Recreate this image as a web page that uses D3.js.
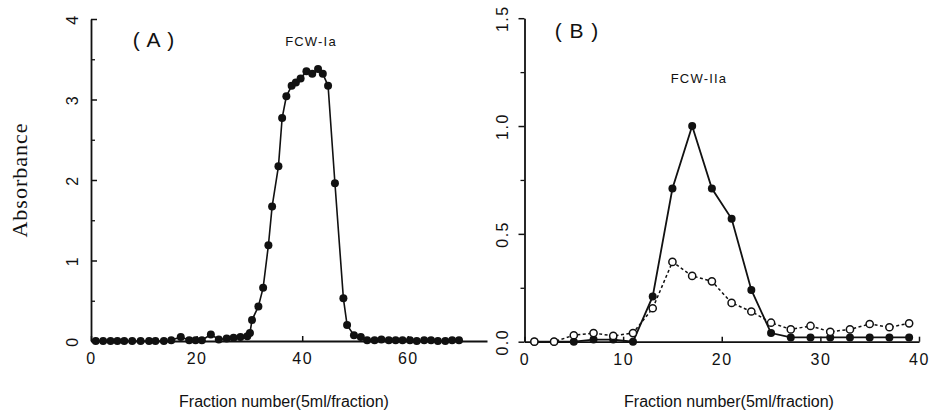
<!DOCTYPE html>
<html>
<head>
<meta charset="utf-8">
<script src="https://cdn.jsdelivr.net/npm/d3@7"></script>
<style>
  body { margin: 0; background: #fff; }
  svg { display: block; }
</style>
</head>
<body>
<div id="chart"></div>
<script>
// panel A: fraction number vs absorbance (FCW-Ia)
const fracA = [0.9, 2.3, 3.7, 5, 6.3, 7.8, 9.4, 11, 12.2, 13.8,
  15.2, 17, 18.6, 19.8, 21, 22.7, 24.2, 25.7, 27, 28.3,
  29.6, 30.1, 30.5, 31.7, 32.6, 33.6, 34.3, 35.5, 36.2, 37,
  38, 38.8, 39.7, 40.8, 41.9, 43, 43.9, 44.9, 46.2, 47.8,
  48.5, 49.8, 51.1, 52.3, 53.7, 55, 56.4, 57.7, 59, 60.4,
  61.7, 63.1, 64.4, 65.7, 67.1, 68.4, 69.7];
const absA = [0, 0, 0, 0, 0, 0, 0, 0, 0, 0,
  0.01, 0.05, 0.01, 0.01, 0.01, 0.08, 0.02, 0.03, 0.04, 0.05,
  0.06, 0.1, 0.26, 0.43, 0.66, 1.19, 1.67, 2.17, 2.77, 3.04,
  3.17, 3.21, 3.26, 3.35, 3.32, 3.38, 3.32, 3.17, 1.96, 0.53,
  0.2, 0.07, 0.05, 0.01, 0.01, 0.02, 0.01, 0.01, 0.01, 0.01,
  0, 0.01, 0.01, 0, 0, 0.01, 0.01];

// panel B: FCW-IIa, two series
const fracB = [1, 3, 5, 7, 9, 11, 13, 15, 17, 19, 21, 23, 25, 27, 29, 31, 33, 35, 37, 39];
const filledB = [0, 0, 0, 0.01, 0.01, 0, 0.21, 0.71, 1.0, 0.71, 0.57, 0.24, 0.04, 0.02, 0.02, 0.02, 0.02, 0.02, 0.02, 0.02];
const openB = [0, 0, 0.03, 0.04, 0.027, 0.04, 0.155, 0.37, 0.305, 0.28, 0.18, 0.14, 0.088, 0.057, 0.073, 0.046, 0.057, 0.082, 0.067, 0.085];

const ticksAx = [0, 20, 40, 60];
const ticksAy = [0, 1, 2, 3, 4];
const minorAy = [0.5, 1.5, 2.5, 3.5];
const ticksBx = [0, 10, 20, 30, 40];
const ticksBy = [0, 0.5, 1.0, 1.5];
const minorBy = [0.25, 0.75, 1.25];

const ink = '#111';
const sans = '"Liberation Sans", Arial, sans-serif';

const svg = d3.select('#chart').append('svg')
  .attr('width', 929)
  .attr('height', 412);

const xA = d3.scaleLinear().domain([0, 75]).range([91, 487]);
const yA = d3.scaleLinear().domain([0, 4]).range([341, 19]);
const xB = d3.scaleLinear().domain([0, 40]).range([524.5, 919]);
const yB = d3.scaleLinear().domain([0, 1.5]).range([341.7, 18.2]);

function styleAxis(g) {
  g.select('.domain').attr('stroke', ink).attr('stroke-width', 1.8);
  g.selectAll('.tick line').attr('stroke', ink).attr('stroke-width', 1.5);
  g.selectAll('.tick text')
    .attr('fill', ink)
    .style('font-family', sans)
    .style('font-size', '16px')
    .style('letter-spacing', '1.5px');
}

function rotateLabels(g, offset) {
  g.selectAll('.tick text')
    .attr('x', null)
    .attr('dy', '0.36em')
    .attr('text-anchor', 'middle')
    .attr('transform', `translate(${offset},0) rotate(-90)`);
}

// ---- panel A axes
const gAx = svg.append('g')
  .attr('transform', `translate(0,${yA(0)})`)
  .call(d3.axisBottom(xA).tickValues(ticksAx).tickSize(-5).tickSizeOuter(0).tickPadding(12));
styleAxis(gAx);

const gAy = svg.append('g')
  .attr('transform', `translate(${xA(0)},0)`)
  .call(d3.axisLeft(yA).tickValues(ticksAy).tickSize(-6).tickSizeOuter(0).tickFormat(d3.format('d')));
styleAxis(gAy);
rotateLabels(gAy, -19);

svg.append('g')
  .attr('transform', `translate(${xA(0)},0)`)
  .call(d3.axisLeft(yA).tickValues(minorAy).tickSize(-4).tickFormat(''))
  .call(g => g.select('.domain').remove())
  .call(g => g.selectAll('line').attr('stroke', ink).attr('stroke-width', 1.3));

// ---- panel B axes
const gBx = svg.append('g')
  .attr('transform', `translate(0,${yB(0)})`)
  .call(d3.axisBottom(xB).tickValues(ticksBx).tickSize(-5).tickSizeOuter(0).tickPadding(12));
styleAxis(gBx);

const gBy = svg.append('g')
  .attr('transform', `translate(${xB(0)},0)`)
  .call(d3.axisLeft(yB).tickValues(ticksBy).tickSize(6).tickSizeOuter(0).tickFormat(d3.format('.1f')));
styleAxis(gBy);
rotateLabels(gBy, -22.5);

svg.append('g')
  .attr('transform', `translate(${xB(0)},0)`)
  .call(d3.axisLeft(yB).tickValues(minorBy).tickSize(4).tickFormat(''))
  .call(g => g.select('.domain').remove())
  .call(g => g.selectAll('line').attr('stroke', ink).attr('stroke-width', 1.3));

// ---- series
const lineA = d3.line().x(i => xA(fracA[i])).y(i => yA(absA[i]));
svg.append('path')
  .attr('d', lineA(d3.range(fracA.length)))
  .attr('fill', 'none')
  .attr('stroke', ink)
  .attr('stroke-width', 1.6);

svg.append('g').selectAll('circle')
  .data(d3.range(fracA.length))
  .join('circle')
  .attr('cx', i => xA(fracA[i]))
  .attr('cy', i => yA(absA[i]))
  .attr('r', 4)
  .attr('fill', ink);

const lineFilled = d3.line().x(i => xB(fracB[i])).y(i => yB(filledB[i]));
const lineOpen = d3.line().x(i => xB(fracB[i])).y(i => yB(openB[i]));
const idxB = d3.range(fracB.length);

svg.append('path')
  .attr('d', lineFilled(idxB))
  .attr('fill', 'none')
  .attr('stroke', ink)
  .attr('stroke-width', 1.8);

svg.append('path')
  .attr('d', lineOpen(idxB))
  .attr('fill', 'none')
  .attr('stroke', ink)
  .attr('stroke-width', 1.5)
  .attr('stroke-dasharray', '3,2.5');

svg.append('g').selectAll('circle')
  .data(idxB)
  .join('circle')
  .attr('cx', i => xB(fracB[i]))
  .attr('cy', i => yB(filledB[i]))
  .attr('r', 4)
  .attr('fill', ink);

svg.append('g').selectAll('circle')
  .data(idxB)
  .join('circle')
  .attr('cx', i => xB(fracB[i]))
  .attr('cy', i => yB(openB[i]))
  .attr('r', 3.6)
  .attr('fill', '#fff')
  .attr('stroke', ink)
  .attr('stroke-width', 1.5);

// ---- text
function label(x, y, str, size, opts = {}) {
  const t = svg.append('text')
    .attr('x', x)
    .attr('y', y)
    .attr('text-anchor', 'middle')
    .attr('fill', ink)
    .style('font-family', opts.family || sans)
    .style('font-size', size + 'px')
    .style('letter-spacing', (opts.spacing || 0) + 'px')
    .text(str);
  return t;
}

label(154, 47, '( A )', 21, { spacing: 1 });
label(311, 46, 'FCW-Ia', 13, { spacing: 1.2 });
label(577, 38, '( B )', 21, { spacing: 1 });
label(699, 83, 'FCW-IIa', 13, { spacing: 1.2 });

label(284, 407, 'Fraction number(5ml/fraction)', 16);
label(729, 407, 'Fraction number(5ml/fraction)', 16);

svg.append('text')
  .attr('transform', 'translate(27,180) rotate(-90)')
  .attr('text-anchor', 'middle')
  .attr('fill', ink)
  .style('font-family', '"Liberation Serif", "Times New Roman", serif')
  .style('font-size', '22px')
  .style('letter-spacing', '1px')
  .text('Absorbance');
</script>
</body>
</html>
